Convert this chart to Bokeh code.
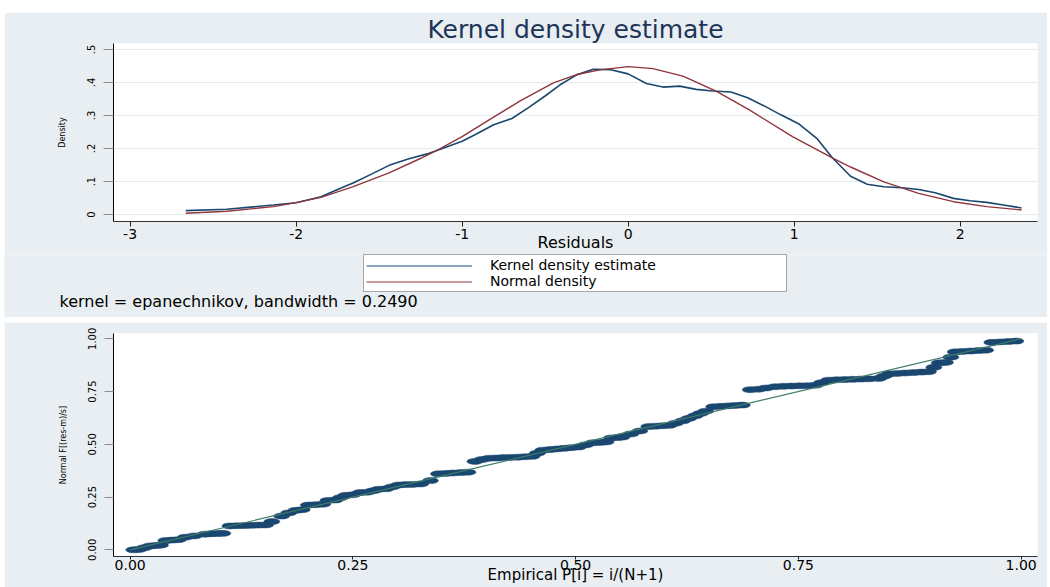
from bokeh.plotting import figure
from bokeh.models import Range1d, FixedTicker, Label, Legend, LegendItem, Spacer
from bokeh.layouts import column, row
from bokeh.embed import file_html
from bokeh.resources import INLINE

# ---------------- data ----------------
kde_x = [-2.665, -2.418, -2.137, -2.0, -1.85, -1.75, -1.65, -1.54, -1.44, -1.32, -1.215, -1.135,
         -1.0, -0.914, -0.81, -0.70, -0.60, -0.50, -0.41, -0.31, -0.21, -0.11, 0.0, 0.11, 0.21,
         0.31, 0.41, 0.51, 0.62, 0.72, 0.82, 0.92, 1.03, 1.14, 1.23, 1.34, 1.44, 1.54, 1.65,
         1.75, 1.85, 1.96, 2.06, 2.16, 2.26, 2.37]
kde_y = [0.012, 0.016, 0.029, 0.036, 0.054, 0.076, 0.097, 0.124, 0.149, 0.169, 0.183, 0.197,
         0.222, 0.244, 0.272, 0.291, 0.324, 0.359, 0.393, 0.423, 0.440, 0.439, 0.426, 0.397, 0.386,
         0.389, 0.379, 0.374, 0.371, 0.354, 0.329, 0.302, 0.274, 0.229, 0.172, 0.116, 0.092, 0.084,
         0.081, 0.076, 0.066, 0.049, 0.042, 0.037, 0.029, 0.020]

norm_x = [-2.665, -2.418, -2.137, -2.0, -1.85, -1.66, -1.44, -1.255, -1.135, -1.0, -0.83, -0.65,
          -0.45, -0.31, -0.17, 0.0, 0.15, 0.33, 0.53, 0.73, 0.99, 1.23, 1.34, 1.54, 1.75, 1.96,
          2.16, 2.37]
norm_y = [0.004, 0.010, 0.024, 0.036, 0.052, 0.084, 0.126, 0.169, 0.199, 0.236, 0.289, 0.344,
          0.399, 0.424, 0.438, 0.448, 0.442, 0.419, 0.374, 0.317, 0.236, 0.172, 0.144, 0.099,
          0.064, 0.039, 0.024, 0.014]

pp_x = [0.004, 0.010, 0.016, 0.022, 0.028, 0.034, 0.040, 0.047, 0.054, 0.062,
        0.072, 0.084, 0.091, 0.098, 0.104, 0.112, 0.120, 0.128, 0.136, 0.144,
        0.152, 0.159, 0.170, 0.178, 0.186, 0.193, 0.200, 0.208, 0.216, 0.222,
        0.230, 0.236, 0.242, 0.250, 0.258, 0.266, 0.273, 0.279, 0.287, 0.294,
        0.301, 0.309, 0.317, 0.326, 0.337, 0.346, 0.354, 0.362, 0.371, 0.379,
        0.387, 0.395, 0.403, 0.411, 0.419, 0.427, 0.435, 0.443, 0.451, 0.457,
        0.463, 0.471, 0.479, 0.487, 0.495, 0.503, 0.511, 0.519, 0.527, 0.534,
        0.540, 0.547, 0.552, 0.562, 0.572, 0.582, 0.590, 0.598, 0.605, 0.612,
        0.620, 0.627, 0.634, 0.640, 0.646, 0.655, 0.663, 0.671, 0.679, 0.687,
        0.696, 0.705, 0.714, 0.724, 0.733, 0.742, 0.751, 0.760, 0.769, 0.776,
        0.784, 0.793, 0.802, 0.811, 0.820, 0.829, 0.840, 0.846, 0.852, 0.861,
        0.870, 0.879, 0.888, 0.896, 0.902, 0.908, 0.915, 0.921, 0.926, 0.934,
        0.943, 0.952, 0.960, 0.967, 0.976, 0.985, 0.994]
pp_y = [0.0, 0.002, 0.010, 0.018, 0.020, 0.022, 0.044, 0.046, 0.048, 0.060,
        0.066, 0.074, 0.076, 0.077, 0.078, 0.113, 0.114, 0.115, 0.116, 0.117,
        0.118, 0.134, 0.160, 0.175, 0.187, 0.190, 0.212, 0.214, 0.216, 0.234,
        0.236, 0.247, 0.258, 0.261, 0.271, 0.273, 0.280, 0.287, 0.289, 0.298,
        0.307, 0.309, 0.310, 0.312, 0.328, 0.360, 0.362, 0.364, 0.366, 0.368,
        0.419, 0.428, 0.434, 0.435, 0.437, 0.438, 0.439, 0.441, 0.443, 0.458,
        0.472, 0.475, 0.478, 0.481, 0.484, 0.487, 0.497, 0.507, 0.509, 0.511,
        0.530, 0.532, 0.534, 0.549, 0.563, 0.584, 0.586, 0.588, 0.590, 0.600,
        0.611, 0.623, 0.635, 0.646, 0.657, 0.678, 0.680, 0.682, 0.684, 0.686,
        0.759, 0.761, 0.767, 0.773, 0.775, 0.776, 0.777, 0.778, 0.780, 0.792,
        0.804, 0.806, 0.807, 0.808, 0.809, 0.810, 0.812, 0.823, 0.834, 0.836,
        0.838, 0.840, 0.842, 0.844, 0.865, 0.886, 0.888, 0.913, 0.938, 0.940,
        0.942, 0.944, 0.946, 0.983, 0.985, 0.987, 0.989]

ref_x = [0.0, 1.0]
ref_y = [0.0, 1.0]

top_x_ticks = [-3, -2, -1, 0, 1, 2]
top_x_labels = ["-3", "-2", "-1", "0", "1", "2"]
top_y_ticks = [0.0, 0.1, 0.2, 0.3, 0.4, 0.5]
top_y_labels = ["0", ".1", ".2", ".3", ".4", ".5"]
bot_ticks = [0.0, 0.25, 0.5, 0.75, 1.0]
bot_labels = ["0.00", "0.25", "0.50", "0.75", "1.00"]

title_text = "Kernel density estimate"
top_xlabel = "Residuals"
top_ylabel = "Density"
note_text = "kernel = epanechnikov, bandwidth = 0.2490"
legend_labels = ["Kernel density estimate", "Normal density"]
bot_xlabel = "Empirical P[i] = i/(N+1)"
bot_ylabel = "Normal F[(res-m)/s]"

# ---------------- style ----------------
BG = "#E8EEF1"
FONT = "DejaVu Sans"
BLUE = "#1A476F"
RED = "#90353B"
GREEN = "#3E7D6B"
W = 1043
ML, MR = 109, 10


def style_axes(p):
    p.yaxis.axis_line_color = "black"
    p.yaxis.major_tick_line_color = "#8C8C8C"
    p.yaxis.major_tick_out = 10
    p.yaxis.major_tick_in = 0
    p.yaxis.minor_tick_line_color = None
    p.yaxis.major_label_orientation = "vertical"
    p.yaxis.major_label_text_font = FONT
    p.yaxis.major_label_text_font_size = "10px"
    p.yaxis.major_label_text_color = "black"
    p.yaxis.major_label_standoff = 8
    p.yaxis.axis_label_text_font = FONT
    p.yaxis.axis_label_text_font_size = "8px"
    p.yaxis.axis_label_text_font_style = "normal"
    p.yaxis.axis_label_text_color = "black"
    p.yaxis.axis_label_standoff = 18
    p.xaxis.axis_line_color = "#333333"
    p.xaxis.major_tick_line_color = "#222222"
    p.xaxis.major_tick_in = 0
    p.xaxis.minor_tick_line_color = None
    p.xaxis.major_label_text_font = FONT
    p.xaxis.major_label_text_font_size = "14px"
    p.xaxis.major_label_text_color = "black"
    p.xaxis.axis_label_text_font = FONT
    p.xaxis.axis_label_text_font_style = "normal"
    p.xaxis.axis_label_text_color = "black"


# ---------------- top panel: plot ----------------
p1 = figure(width=W, height=242, x_range=Range1d(-3.10, 2.466), y_range=Range1d(-0.021, 0.518),
            output_backend="svg", toolbar_location=None, title=title_text,
            min_border_left=ML, min_border_right=MR, min_border_top=30, min_border_bottom=33)
p1.border_fill_color = BG
p1.background_fill_color = "white"
p1.outline_line_color = None
p1.title.align = "center"
p1.title.text_font = FONT
p1.title.text_font_size = "25px"
p1.title.text_font_style = "normal"
p1.title.text_color = "#1E3559"
p1.title.standoff = 0
style_axes(p1)
p1.xaxis.ticker = FixedTicker(ticks=top_x_ticks)
p1.xaxis.major_label_overrides = dict(zip(top_x_ticks, top_x_labels))
p1.xaxis.major_tick_out = 5
p1.xaxis.major_label_standoff = 2
p1.xaxis.axis_label = top_xlabel
p1.xaxis.axis_label_text_font_size = "16px"
p1.xaxis.axis_label_standoff = -9
p1.yaxis.ticker = FixedTicker(ticks=top_y_ticks)
p1.yaxis.major_label_overrides = dict(zip(top_y_ticks, top_y_labels))
p1.yaxis.axis_label = top_ylabel
p1.xgrid.visible = False
p1.ygrid.ticker = FixedTicker(ticks=top_y_ticks)
p1.ygrid.grid_line_color = "#E3EBEE"

p1.line(kde_x, kde_y, line_color=BLUE, line_width=1.6)
p1.line(norm_x, norm_y, line_color=RED, line_width=1.4)

# ---------------- top panel: legend + note strip ----------------
H1B = 63
p1b = figure(width=W, height=H1B, x_range=Range1d(0, W), y_range=Range1d(0, H1B),
             output_backend="svg", toolbar_location=None, title=None,
             x_axis_location=None, y_axis_location=None, min_border=0)
p1b.frame_align = False
p1b.border_fill_color = BG
p1b.background_fill_color = BG
p1b.outline_line_color = None
p1b.xgrid.visible = False
p1b.ygrid.visible = False
# legend keys only (drawn outside the visible range)
lk = p1b.line([-20, -10], [-20, -20], line_color=BLUE, line_width=1.2)
ln = p1b.line([-20, -10], [-30, -30], line_color=RED, line_width=1.2)
legend = Legend(items=[LegendItem(label=legend_labels[0], renderers=[lk]),
                       LegendItem(label=legend_labels[1], renderers=[ln])],
                location=(359, 25), orientation="vertical", margin=0, padding=2, spacing=0,
                glyph_width=106, glyph_height=15, label_height=15, label_standoff=18,
                label_width=294, label_text_font=FONT, label_text_font_size="14px",
                label_text_color="black", border_line_color="#4D4D4D", border_line_width=1,
                background_fill_color="white", background_fill_alpha=1.0)
p1b.add_layout(legend, "center")
p1b.add_layout(Label(x=55, y=16, text=note_text, text_align="left", text_baseline="middle",
                     text_font=FONT, text_font_size="16px", text_color="black"))

# ---------------- bottom panel ----------------
p2 = figure(width=W, height=265, x_range=Range1d(-0.0187, 1.0183), y_range=Range1d(-0.0317, 1.025),
            output_backend="svg", toolbar_location=None, title=None,
            min_border_left=ML, min_border_right=MR, min_border_top=11, min_border_bottom=31)
p2.border_fill_color = BG
p2.background_fill_color = "white"
p2.outline_line_color = None
style_axes(p2)
p2.xaxis.ticker = FixedTicker(ticks=bot_ticks)
p2.xaxis.major_label_overrides = dict(zip(bot_ticks, bot_labels))
p2.xaxis.major_tick_out = 3
p2.xaxis.major_label_standoff = 0
p2.xaxis.axis_label = bot_xlabel
p2.xaxis.axis_label_text_font_size = "15px"
p2.xaxis.axis_label_standoff = -7
p2.yaxis.ticker = FixedTicker(ticks=bot_ticks)
p2.yaxis.major_label_overrides = dict(zip(bot_ticks, bot_labels))
p2.yaxis.major_tick_out = 9
p2.yaxis.axis_label = bot_ylabel
p2.xgrid.visible = False
p2.ygrid.visible = False

p2.ellipse(x=pp_x, y=pp_y, width=16, height=6, width_units="screen", height_units="screen",
           fill_color=BLUE, line_color=BLUE, line_width=0.5)
p2.line(ref_x, ref_y, line_color=GREEN, line_width=1.2)

layout = row(Spacer(width=4, height=10),
             column(Spacer(width=W, height=12), p1, p1b, Spacer(width=W, height=5), p2))

open("out.html", "w").write(file_html(layout, INLINE))
